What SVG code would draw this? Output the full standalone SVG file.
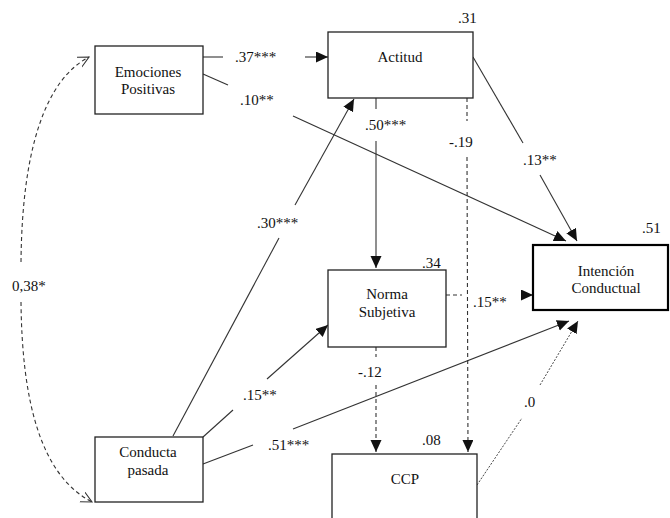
<svg xmlns="http://www.w3.org/2000/svg" width="670" height="518" viewBox="0 0 670 518">
<style>
.t text{font-size:15px;fill:#111}
.c{text-anchor:middle}
.box{fill:#fff;stroke:#222;stroke-width:1.3}
.thick{fill:#fff;stroke:#000;stroke-width:2.2}
.ln{stroke:#333;stroke-width:1.1;fill:none}
.da{stroke-dasharray:4 3}
.dt{stroke-dasharray:2 1.5;stroke-width:0.9}
</style>
<defs>
<marker id="ah" markerUnits="userSpaceOnUse" markerWidth="13" markerHeight="12" refX="12" refY="5.5" orient="auto">
<path d="M0,0 L12,5.5 L0,11 z" fill="#111"/>
</marker>
<marker id="oh" markerUnits="userSpaceOnUse" markerWidth="14" markerHeight="14" refX="11" refY="6" orient="auto">
<path d="M0,0.5 L11,6 L0,11.5" fill="none" stroke="#333" stroke-width="1.1"/>
</marker>
</defs>
<g id="connectors">
<line class="ln" x1="203" y1="57" x2="223" y2="57"/>
<line class="ln" x1="305" y1="57" x2="328" y2="57" marker-end="url(#ah)"/>
<line class="ln" x1="203" y1="74" x2="228" y2="85"/>
<line class="ln" x1="293" y1="116" x2="566" y2="241" marker-end="url(#ah)"/>
<line class="ln" x1="473" y1="57" x2="523" y2="143"/>
<line class="ln" x1="540" y1="175" x2="577" y2="241" marker-end="url(#ah)"/>
<line class="ln" x1="376" y1="98" x2="376" y2="109"/>
<line class="ln" x1="376" y1="141" x2="376" y2="268" marker-end="url(#ah)"/>
<line class="ln da" x1="467" y1="98" x2="467" y2="121"/>
<line class="ln da" x1="467" y1="157" x2="468" y2="452" marker-end="url(#ah)"/>
<line class="ln da" x1="446" y1="295" x2="462" y2="295"/>
<line class="ln" x1="521" y1="295" x2="533" y2="295" marker-end="url(#ah)"/>
<line class="ln da" x1="376" y1="347" x2="376" y2="357"/>
<line class="ln da" x1="376" y1="385" x2="376" y2="452" marker-end="url(#ah)"/>
<line class="ln dt" x1="477" y1="485" x2="522" y2="418"/>
<line class="ln dt" x1="540" y1="385" x2="578" y2="321" marker-end="url(#ah)"/>
<line class="ln" x1="203" y1="464" x2="253" y2="445"/>
<line class="ln" x1="293" y1="429" x2="569" y2="321" marker-end="url(#ah)"/>
<line class="ln" x1="203" y1="437" x2="233" y2="410"/>
<line class="ln" x1="267" y1="379" x2="328" y2="325" marker-end="url(#ah)"/>
<line class="ln" x1="173" y1="436" x2="279" y2="238"/>
<line class="ln" x1="295" y1="205" x2="354" y2="99" marker-end="url(#ah)"/>
<path class="ln da" d="M21,262 C22,150 45,80 89,57" marker-end="url(#oh)"/>
<path class="ln da" d="M21,302 C22,400 40,475 92,502" marker-end="url(#oh)"/>
</g>
<g class="t" font-family="'Liberation Serif', 'DejaVu Serif', serif">
<g id="labels">
<text x="235" y="62">.37***</text>
<text x="240" y="105">.10**</text>
<text x="365" y="130">.50***</text>
<text x="449" y="147">-.19</text>
<text x="523" y="165">.13**</text>
<text x="257" y="228">.30***</text>
<text x="12" y="291">0,38*</text>
<text x="473" y="307">.15**</text>
<text x="358" y="377">-.12</text>
<text x="524" y="407">.0</text>
<text x="243" y="400">.15**</text>
<text x="268" y="450">.51***</text>
</g>
<g id="emociones">
<rect class="box" x="95" y="46" width="108" height="68"/>
<text class="c" x="148" y="77">Emociones</text>
<text class="c" x="148" y="94">Positivas</text>
</g>
<g id="actitud">
<rect class="box" x="328" y="32" width="145" height="66"/>
<text class="c" x="400" y="62">Actitud</text>
<text x="458" y="23">.31</text>
</g>
<g id="norma">
<rect class="box" x="328" y="270" width="118" height="77"/>
<text class="c" x="387" y="299">Norma</text>
<text class="c" x="387" y="317">Subjetiva</text>
<text x="422" y="268">.34</text>
</g>
<g id="intencion">
<rect class="thick" x="533" y="245" width="135" height="65"/>
<text class="c" x="606" y="276">Intención</text>
<text class="c" x="606" y="293">Conductual</text>
<text x="642" y="233">.51</text>
</g>
<g id="ccp">
<rect class="box" x="332" y="454" width="145" height="80"/>
<text class="c" x="405" y="484">CCP</text>
<text x="422" y="445">.08</text>
</g>
<g id="conducta">
<rect class="box" x="95" y="437" width="108" height="65"/>
<text class="c" x="148" y="457">Conducta</text>
<text class="c" x="148" y="475">pasada</text>
</g>
</g>
</svg>
